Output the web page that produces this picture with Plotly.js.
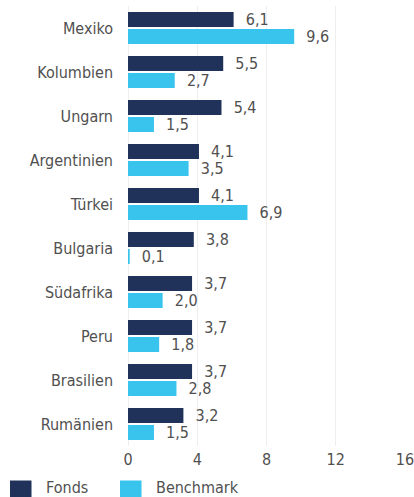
<!DOCTYPE html>
<html>
<head>
<meta charset="utf-8">
<script src="https://cdn.plot.ly/plotly-3.0.1.min.js"></script>
<style>html,body{margin:0;padding:0;background:#fff;}#chart{width:414px;height:497px;}
text{font-stretch:condensed !important;}</style>
</head>
<body>
<div id="chart"></div>
<script>
const categories = ["Mexiko","Kolumbien","Ungarn","Argentinien","Türkei","Bulgaria","Südafrika","Peru","Brasilien","Rumänien"];
const fonds = [6.1,5.5,5.4,4.1,4.1,3.8,3.7,3.7,3.7,3.2];
const benchmark = [9.6,2.7,1.5,3.5,6.9,0.1,2.0,1.8,2.8,1.5];
const xTicks = [0,4,8,12,16];
const seriesNames = ["Fonds","Benchmark"];

const navy = "#203259";
const cyan = "#39C4EE";
const txt = "#505050";
const fontFam = "DejaVu Sans Condensed, Liberation Sans Narrow, DejaVu Sans, sans-serif";
const fs = 16;

const traces = [
  {type:"bar", orientation:"h", name:seriesNames[0], y:categories, x:fonds,
   marker:{color:navy}, texttemplate:"\u00a0\u00a0%{x:.1f}", textposition:"outside",
   constraintext:"none",
   textfont:{color:txt,size:fs,family:fontFam}, cliponaxis:false, hoverinfo:"none"},
  {type:"bar", orientation:"h", name:seriesNames[1], y:categories, x:benchmark,
   marker:{color:cyan}, texttemplate:"\u00a0\u00a0%{x:.1f}", textposition:"outside",
   constraintext:"none",
   textfont:{color:txt,size:fs,family:fontFam}, cliponaxis:false, hoverinfo:"none"}
];

const px = X => (X-128)/277;
const py = Y => (446-Y)/440;

const layout = {
  width:414, height:497,
  margin:{l:128, r:9, t:6, b:51},
  paper_bgcolor:"#fff", plot_bgcolor:"#fff",
  separators:", ",
  barmode:"group", bargap:0.227, bargroupgap:0.118,
  showlegend:false,
  font:{family:fontFam, size:fs, color:txt},
  xaxis:{range:[0,16], tickvals:xTicks, ticktext:xTicks.map(String),
         showgrid:true, gridcolor:"#eeeeee", gridwidth:1,
         zeroline:true, zerolinecolor:"#eeeeee", zerolinewidth:1,
         showline:false, ticks:"", ticklabelstandoff:2, ticklabeloverflow:"allow",
         tickfont:{size:fs,color:txt,family:fontFam}, fixedrange:true},
  yaxis:{type:"category", autorange:"reversed", showgrid:false, zeroline:false,
         showline:false, ticks:"", ticklabelstandoff:14,
         tickfont:{size:fs,color:txt,family:fontFam}, fixedrange:true},
  shapes:[
    {type:"rect", xref:"paper", yref:"paper", x0:px(10), x1:px(31.5), y0:py(500), y1:py(480.5), fillcolor:navy, line:{width:0}},
    {type:"rect", xref:"paper", yref:"paper", x0:px(120), x1:px(141.5), y0:py(500), y1:py(480.5), fillcolor:cyan, line:{width:0}}
  ],
  annotations:[
    {xref:"paper", yref:"paper", x:px(44), y:py(487), xanchor:"left", yanchor:"middle", text:seriesNames[0], showarrow:false, font:{size:fs,color:txt,family:fontFam}},
    {xref:"paper", yref:"paper", x:px(154), y:py(487), xanchor:"left", yanchor:"middle", text:seriesNames[1], showarrow:false, font:{size:fs,color:txt,family:fontFam}}
  ]
};

Plotly.newPlot("chart", traces, layout, {staticPlot:true, displayModeBar:false});
</script>
</body>
</html>
